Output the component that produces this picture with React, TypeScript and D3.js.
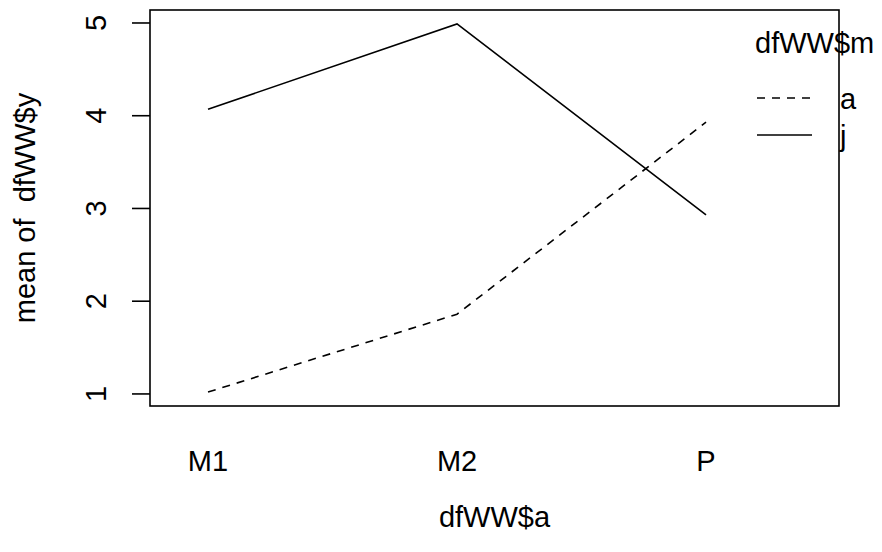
import React from "react";
import * as d3 from "d3";

const categories = ["M1", "M2", "P"];
const seriesNames = ["a", "j"];
const seriesA = [1.02, 1.86, 3.93];
const seriesJ = [4.07, 4.99, 2.93];
const yTicks = [1, 2, 3, 4, 5];
const xTitle = "dfWW$a";
const yTitle = "mean of  dfWW$y";
const legendTitle = "dfWW$m";

const W = 882;
const H = 552;
const box = { left: 150, right: 839, top: 10, bottom: 406 };
const FONT = "'Liberation Sans', Arial, Helvetica, sans-serif";
const FS = 29;
const SW = 1.6;

export default function App() {
  const x = d3.scaleLinear().domain([0.767, 3.534]).range([box.left, box.right]);
  const y = d3.scaleLinear().domain([0.87, 5.14]).range([box.bottom, box.top]);
  const line = d3
    .line<number>()
    .x((_, i) => x(i + 1))
    .y((d) => y(d));
  const series = [
    { name: seriesNames[0], values: seriesA, dash: "8,7" },
    { name: seriesNames[1], values: seriesJ, dash: undefined as string | undefined },
  ];
  const legX1 = 757;
  const legX2 = 812;
  const legTextX = 840;
  const legY = [98, 135];
  return (
    <svg
      width={W}
      height={H}
      style={{ position: "absolute", left: 0, top: 0, background: "#fff" }}
      fontFamily={FONT}
    >
      <rect x={0} y={0} width={W} height={H} fill="#fff" />
      {series.map((s) => (
        <path
          key={s.name}
          d={line(s.values) || ""}
          fill="none"
          stroke="#000"
          strokeWidth={SW}
          strokeDasharray={s.dash}
        />
      ))}
      <rect
        x={box.left}
        y={box.top}
        width={box.right - box.left}
        height={box.bottom - box.top}
        fill="none"
        stroke="#000"
        strokeWidth={SW}
      />
      {yTicks.map((t) => (
        <g key={t}>
          <line x1={132} x2={box.left} y1={y(t)} y2={y(t)} stroke="#000" strokeWidth={SW} />
          <text
            transform={`translate(106,${y(t)}) rotate(-90)`}
            textAnchor="middle"
            fontSize={FS}
          >
            {t}
          </text>
        </g>
      ))}
      {categories.map((c, i) => (
        <text key={c} x={x(i + 1)} y={471} textAnchor="middle" fontSize={FS}>
          {c}
        </text>
      ))}
      <text x={(box.left + box.right) / 2} y={527} textAnchor="middle" fontSize={FS}>
        {xTitle}
      </text>
      <text
        transform={`translate(35,${(box.top + box.bottom) / 2}) rotate(-90)`}
        textAnchor="middle"
        fontSize={FS}
        style={{ whiteSpace: "pre" }}
      >
        {yTitle}
      </text>
      <text x={755} y={53} fontSize={FS}>
        {legendTitle}
      </text>
      {series.map((s, i) => (
        <g key={s.name}>
          <line
            x1={legX1}
            x2={legX2}
            y1={legY[i]}
            y2={legY[i]}
            stroke="#000"
            strokeWidth={SW}
            strokeDasharray={s.dash}
          />
          <text x={legTextX} y={legY[i] + 11} fontSize={FS}>
            {s.name}
          </text>
        </g>
      ))}
    </svg>
  );
}
